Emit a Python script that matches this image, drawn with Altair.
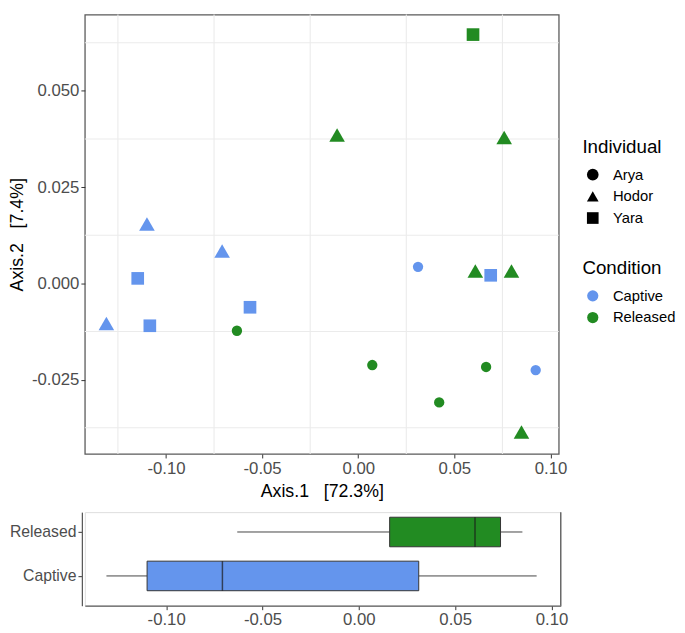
import altair as alt
import pandas as pd

# ---- data ----
captive_axis1 = [-0.1310, -0.1099, -0.0708, -0.1147, -0.1084, -0.0563, 0.0311, 0.0689, 0.0923]
captive_axis2 = [-0.0104, 0.0154, 0.0084, 0.0013, -0.0110, -0.0062, 0.0043, 0.0021, -0.0225]
captive_individual = ["Hodor", "Hodor", "Hodor", "Yara", "Yara", "Yara", "Arya", "Yara", "Arya"]

released_axis1 = [0.0597, -0.0110, 0.0759, 0.0609, 0.0797, 0.0849, -0.0631, 0.0073, 0.0665, 0.0421]
released_axis2 = [0.0646, 0.0385, 0.0379, 0.0032, 0.0032, -0.0386, -0.0123, -0.0212, -0.0217, -0.0309]
released_individual = ["Yara", "Hodor", "Hodor", "Hodor", "Hodor", "Hodor", "Arya", "Arya", "Arya", "Arya"]

individuals = ["Arya", "Hodor", "Yara"]
individual_shapes = ["circle", "triangle-up", "square"]
individual_sizes = [110, 250, 165]
conditions = ["Captive", "Released"]
condition_colors = ["#6495ED", "#228B22"]

x_ticks = [-0.10, -0.05, 0.00, 0.05, 0.10]
y_ticks = [-0.025, 0.000, 0.025, 0.050]
x_grid = [-0.125, -0.075, -0.025, 0.025, 0.075]
y_grid = [-0.0375, -0.0125, 0.0125, 0.0375, 0.0625]

df = pd.DataFrame({
    "Axis1": captive_axis1 + released_axis1,
    "Axis2": captive_axis2 + released_axis2,
    "Individual": captive_individual + released_individual,
    "Condition": ["Captive"] * len(captive_axis1) + ["Released"] * len(released_axis1),
})

FONT = "Liberation Sans"
LABEL_GREY = "#4d4d4d"
FRAME = "#5a5a5a"

x_scale_top = alt.Scale(domain=[-0.1422, 0.1043], nice=False, zero=False)
y_scale_top = alt.Scale(domain=[-0.0443, 0.0698], nice=False, zero=False)

x_axis_top = alt.Axis(
    values=x_ticks, labelExpr="replace(format(datum.value, '.2f'), '\u2212', '-')",
    grid=False, domain=False, tickSize=4, tickColor="#333333",
    labelFont=FONT, labelFontSize=17, labelColor=LABEL_GREY, labelPadding=3,
    titleFont=FONT, titleFontSize=18, titleColor="black", titleFontWeight="normal", titlePadding=6,
    title="Axis.1\u00a0\u00a0 [72.3%]",
)
y_axis_top = alt.Axis(
    values=y_ticks, labelExpr="replace(format(datum.value, '.3f'), '\u2212', '-')",
    grid=False, domain=False, tickSize=4, tickColor="#333333",
    labelFont=FONT, labelFontSize=17, labelColor=LABEL_GREY, labelPadding=2,
    titleFont=FONT, titleFontSize=18, titleColor="black", titleFontWeight="normal", titlePadding=5,
    title="Axis.2\u00a0\u00a0 [7.4%]",
)

grid_v = alt.Chart(pd.DataFrame({"g": x_grid})).mark_rule(color="#ebebeb", strokeWidth=1.1).encode(
    x=alt.X("g:Q", scale=x_scale_top, axis=x_axis_top)
)
grid_h = alt.Chart(pd.DataFrame({"g": y_grid})).mark_rule(color="#ebebeb", strokeWidth=1.1).encode(
    y=alt.Y("g:Q", scale=y_scale_top, axis=y_axis_top)
)

color_enc = alt.Color(
    "Condition:N", scale=alt.Scale(domain=conditions, range=condition_colors),
    legend=alt.Legend(
        title="Condition", orient="none", legendX=505, legendY=248,
        titleFont=FONT, titleFontSize=19, titleFontWeight="normal", titleColor="black", titlePadding=11,
        labelFont=FONT, labelFontSize=15, labelColor="black", labelOffset=13,
        symbolType="circle", symbolSize=130, symbolOpacity=1, symbolOffset=3,
        symbolStrokeWidth=0, rowPadding=6,
    ),
)
shape_enc = alt.Shape(
    "Individual:N", scale=alt.Scale(domain=individuals, range=individual_shapes),
    legend=alt.Legend(
        title="Individual", orient="none", legendX=505, legendY=125,
        titleFont=FONT, titleFontSize=19, titleFontWeight="normal", titleColor="black", titlePadding=11,
        labelFont=FONT, labelFontSize=15, labelColor="black", labelOffset=13,
        symbolSize=140, symbolFillColor="black", symbolStrokeColor="black", symbolOpacity=1,
        symbolOffset=3, symbolStrokeWidth=0, rowPadding=6,
    ),
)

point_layers = []
for ind, sz in zip(individuals, individual_sizes):
    point_layers.append(
        alt.Chart(df).transform_filter(alt.datum.Individual == ind)
        .mark_point(filled=True, opacity=1, size=sz, color="black")
        .encode(
            x=alt.X("Axis1:Q", scale=x_scale_top, axis=x_axis_top),
            y=alt.Y("Axis2:Q", scale=y_scale_top, axis=y_axis_top),
            color=color_enc,
            shape=shape_enc,
        )
    )

top = alt.layer(grid_v, grid_h, *point_layers).properties(
    width=481, height=446,
    view=alt.ViewBackground(stroke=FRAME, strokeWidth=1.3),
)

# ---- bottom boxplot ----
x_axis_bottom = alt.Axis(
    values=x_ticks, labelExpr="replace(format(datum.value, '.2f'), '\u2212', '-')",
    grid=False, domain=True, domainColor=FRAME, domainWidth=1.3, tickSize=4, tickColor="#333333",
    labelFont=FONT, labelFontSize=17, labelColor=LABEL_GREY, labelPadding=2, title=None,
)
y_axis_bottom = alt.Axis(
    grid=False, domain=True, domainColor=FRAME, domainWidth=1.3, tickSize=4, tickColor="#333333",
    labelFont=FONT, labelFontSize=16, labelColor=LABEL_GREY, labelPadding=2, title=None, offset=3,
)

box = alt.Chart(df).mark_boxplot(
    extent="min-max", size=30,
    box={"stroke": "#333333", "strokeWidth": 1},
    median={"color": "#1a1a1a", "thickness": 1.5},
    rule={"color": "#444444", "strokeWidth": 1},
).encode(
    x=alt.X("Axis1:Q", scale=alt.Scale(domain=[-0.1422, 0.1048], nice=False, zero=False), axis=x_axis_bottom),
    y=alt.Y("Condition:N", scale=alt.Scale(type="point", domain=["Released", "Captive"], padding=0.565, align=0.40),
            axis=y_axis_bottom),
    color=alt.Color("Condition:N", scale=alt.Scale(domain=conditions, range=condition_colors), legend=None),
)

right_line = alt.Chart(pd.DataFrame({"a": [0]})).mark_rule(color=FRAME, strokeWidth=1.3).encode(
    x=alt.value(483), y=alt.value(0), y2=alt.value(95)
)

bottom = alt.layer(box, right_line).properties(width=483, height=95)

chart = alt.vconcat(top, bottom, spacing=9).resolve_scale(
    color="independent", x="independent", y="independent", shape="independent"
).properties(
    padding={"left": 0, "top": 0, "right": 0, "bottom": 0}
).configure_view(stroke=None).configure(font=FONT, padding=0)

chart.save("out.html", embed_options={"renderer": "svg", "actions": False, "padding": 0})
